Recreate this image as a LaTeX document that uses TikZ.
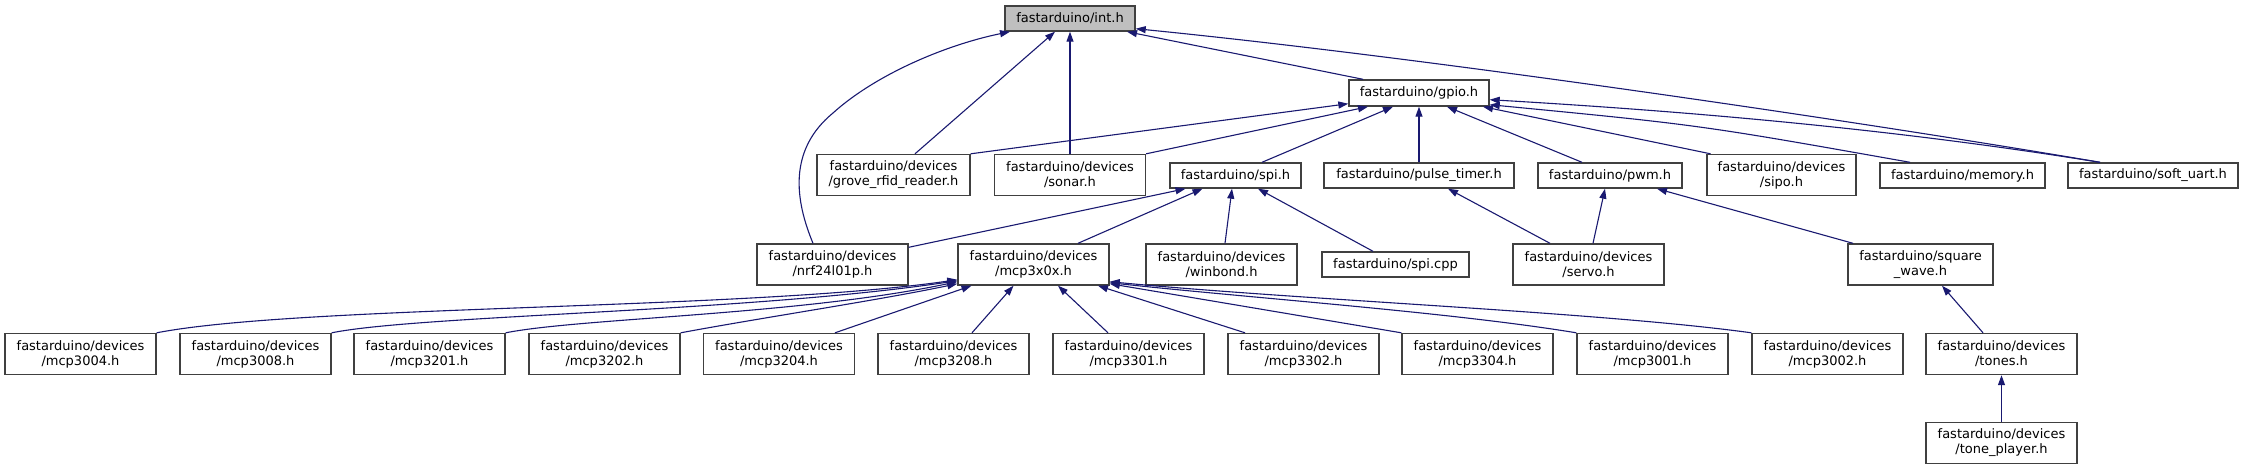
\documentclass[tikz,border=0pt]{standalone}
\usepackage{fontspec}
\setmainfont{DejaVu Sans}
\usetikzlibrary{arrows.meta}
\definecolor{edgeblue}{HTML}{191970}
\definecolor{boxline}{HTML}{404040}
\definecolor{rootfill}{HTML}{BFBFBF}
\tikzset{
  nbox/.style={draw=boxline, line width=1.4pt, fill=white, inner sep=0pt, align=center,
    font=\fontsize{13}{15}\selectfont, text=black},
  two/.style={minimum width=151pt, minimum height=41pt},
  one/.style={minimum height=25pt},
  dep/.style={draw=edgeblue, line width=1.1pt, -{Triangle[length=10pt,width=7pt]}},
}
\begin{document}
\begin{tikzpicture}[x=1pt,y=-1pt]
\useasboundingbox (0,0) rectangle (2247,469);
% row 0
\node[nbox, one, fill=rootfill, minimum width=130pt] (int) at (1070,18.5) {fastarduino/int.h};
% row 1
\node[nbox, one, minimum width=140pt, minimum height=26pt] (gpio) at (1419,93) {fastarduino/gpio.h};
% row 2
\node[nbox, two, minimum width=153pt] (grove) at (893.5,175) {fastarduino/devices\\/grove\_rfid\_reader.h};
\node[nbox, two] (sonar) at (1070,175) {fastarduino/devices\\/sonar.h};
\node[nbox, one, minimum width=131pt] (spi) at (1235.5,175.5) {fastarduino/spi.h};
\node[nbox, one, minimum width=190pt] (pulse) at (1419,175.5) {fastarduino/pulse\_timer.h};
\node[nbox, one, minimum width=144pt] (pwm) at (1610,175.5) {fastarduino/pwm.h};
\node[nbox, two, minimum width=149pt] (sipo) at (1781.5,175) {fastarduino/devices\\/sipo.h};
\node[nbox, one, minimum width=165pt] (memory) at (1962.5,175.5) {fastarduino/memory.h};
\node[nbox, one, minimum width=170pt] (softuart) at (2153,175.5) {fastarduino/soft\_uart.h};
% row 3
\node[nbox, two] (nrf) at (832.5,264.5) {fastarduino/devices\\/nrf24l01p.h};
\node[nbox, two] (mcpx) at (1033.5,264.5) {fastarduino/devices\\/mcp3x0x.h};
\node[nbox, two] (winbond) at (1221.5,264.5) {fastarduino/devices\\/winbond.h};
\node[nbox, one, minimum width=147pt] (spicpp) at (1395.5,264.5) {fastarduino/spi.cpp};
\node[nbox, two] (servo) at (1588.5,264.5) {fastarduino/devices\\/servo.h};
\node[nbox, two, minimum width=145pt] (square) at (1920.5,264.5) {fastarduino/square\\\_wave.h};
% row 4
\node[nbox, two] (m3004) at (80.5,354) {fastarduino/devices\\/mcp3004.h};
\node[nbox, two] (m3008) at (255.5,354) {fastarduino/devices\\/mcp3008.h};
\node[nbox, two] (m3201) at (429.5,354) {fastarduino/devices\\/mcp3201.h};
\node[nbox, two] (m3202) at (604.5,354) {fastarduino/devices\\/mcp3202.h};
\node[nbox, two] (m3204) at (779,354) {fastarduino/devices\\/mcp3204.h};
\node[nbox, two] (m3208) at (953.5,354) {fastarduino/devices\\/mcp3208.h};
\node[nbox, two] (m3301) at (1128.5,354) {fastarduino/devices\\/mcp3301.h};
\node[nbox, two] (m3302) at (1303.5,354) {fastarduino/devices\\/mcp3302.h};
\node[nbox, two] (m3304) at (1477.5,354) {fastarduino/devices\\/mcp3304.h};
\node[nbox, two] (m3001) at (1652.5,354) {fastarduino/devices\\/mcp3001.h};
\node[nbox, two] (m3002) at (1827.5,354) {fastarduino/devices\\/mcp3002.h};
\node[nbox, two] (tones) at (2001.5,354) {fastarduino/devices\\/tones.h};
% row 5
\node[nbox, two] (tplayer) at (2001.5,443) {fastarduino/devices\\/tone\_player.h};

% edges to int.h
\draw[dep] ([xshift=-19.5pt]nrf.north) .. controls (795,200) and (788,150) .. (833,113)
  .. controls (875,75) and (945,45) .. ([xshift=-60pt]int.south);
\draw[dep] ([xshift=21.5pt]grove.north) -- ([xshift=-15pt]int.south);
\draw[dep] (sonar.north) -- (int.south);
\draw[dep] ([xshift=-56pt]gpio.north) -- ([xshift=57pt]int.south);
\draw[dep] ([xshift=-53pt]softuart.north) .. controls (1900,128) and (1450,60) .. ([yshift=3pt]int.south east);
% edges to gpio.h
\draw[dep] (grove.north east) -- ([yshift=3pt]gpio.south west);
\draw[dep] (sonar.north east) -- ([xshift=-51pt]gpio.south);
\draw[dep] ([xshift=26.5pt]spi.north) -- ([xshift=-26pt]gpio.south);
\draw[dep] (pulse.north) -- (gpio.south);
\draw[dep] ([xshift=-28pt]pwm.north) -- ([xshift=28pt]gpio.south);
\draw[dep] ([xshift=-71pt]sipo.north) -- ([xshift=64pt]gpio.south);
\draw[dep] ([xshift=-52.5pt]memory.north) .. controls (1700,125) .. ([yshift=2pt]gpio.south east);
\draw[dep] ([xshift=-53pt]softuart.north) .. controls (1900,130) and (1700,112) .. ([yshift=7pt]gpio.south east);
% edges to spi.h
\draw[dep] ([yshift=-4pt]nrf.north east) -- ([xshift=-50pt]spi.south);
\draw[dep] ([xshift=44.5pt]mcpx.north) -- ([xshift=-33pt]spi.south);
\draw[dep] ([xshift=3.5pt]winbond.north) -- ([xshift=-3.5pt]spi.south);
\draw[dep] ([xshift=-22.5pt]spicpp.north) -- ([xshift=22.5pt]spi.south);
% pulse_timer, pwm, square_wave, tones
\draw[dep] ([xshift=-38.5pt]servo.north) -- ([xshift=29pt]pulse.south);
\draw[dep] ([xshift=4.5pt]servo.north) -- ([xshift=-5pt]pwm.south);
\draw[dep] ([xshift=-67.5pt]square.north) -- ([xshift=47pt]pwm.south);
\draw[dep] ([xshift=-18.5pt]tones.north) -- ([xshift=21.5pt]square.south);
\draw[dep] (tplayer.north) -- (tones.south);
% edges to mcp3x0x.h
\draw[dep] (m3004.north east) .. controls (300,305) and (750,310) .. ([yshift=6pt]mcpx.south west);
\draw[dep] (m3008.north east) .. controls (420,315) and (750,312) .. ([yshift=5pt]mcpx.south west);
\draw[dep] (m3201.north east) .. controls (580,318) and (800,315) .. ([yshift=4pt]mcpx.south west);
\draw[dep] (m3202.north east) .. controls (760,318) and (880,300) .. ([yshift=2pt]mcpx.south west);
\draw[dep] ([xshift=56pt]m3204.north) -- ([xshift=-62pt]mcpx.south);
\draw[dep] ([xshift=18.5pt]m3208.north) -- ([xshift=-20pt]mcpx.south);
\draw[dep] ([xshift=-20.5pt]m3301.north) -- ([xshift=24.5pt]mcpx.south);
\draw[dep] ([xshift=-58.5pt]m3302.north) -- ([xshift=64.5pt]mcpx.south);
\draw[dep] (m3304.north west) -- ([yshift=2pt]mcpx.south east);
\draw[dep] (m3001.north west) .. controls (1450,312) and (1250,298) .. ([yshift=3pt]mcpx.south east);
\draw[dep] (m3002.north west) .. controls (1600,312) and (1300,300) .. ([yshift=4pt]mcpx.south east);
\end{tikzpicture}
\end{document}
